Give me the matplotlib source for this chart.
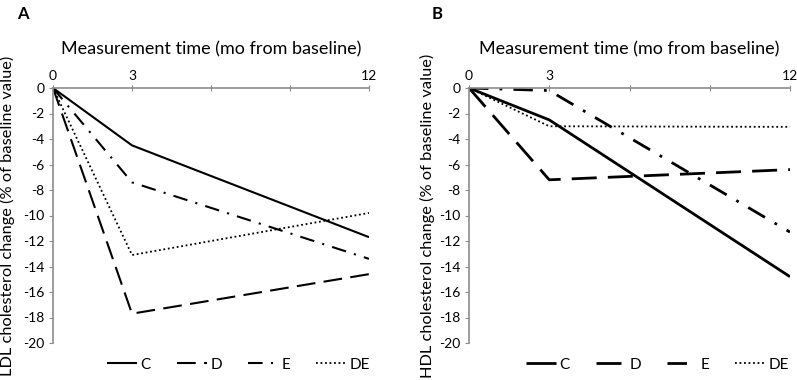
import matplotlib.pyplot as plt
import matplotlib.ticker as mticker

plt.rcParams['font.family'] = ['Lato', 'DejaVu Sans']
plt.rcParams['axes.unicode_minus'] = False

# Measurement times (months from baseline)
months = [0, 3, 12]
groups = ['C', 'D', 'E', 'DE']

# LDL cholesterol change (% of baseline value)
ldl_c = [0, -4.5, -11.7]
ldl_d = [0, -17.7, -14.6]
ldl_e = [0, -7.4, -13.4]
ldl_de = [0, -13.1, -9.8]

# HDL cholesterol change (% of baseline value)
hdl_c = [0, -2.5, -14.8]
hdl_d = [0, -7.2, -6.4]
hdl_e = [0, -0.2, -11.3]
hdl_de = [0, -3.0, -3.05]

styles = {
    'C': dict(linestyle='-'),
    'D': dict(linestyle=(0, (9, 4))),
    'E': dict(linestyle=(0, (7, 4, 1, 4))),
    'DE': dict(linestyle=(0, (1, 1.5))),
}


def draw_panel(ax, series, ylabel, letter, lw, label_x):
    for name, vals in zip(groups, series):
        w = lw if name != 'DE' else 1.3
        ax.plot(months, vals, color='black', linewidth=w, label=name,
                solid_capstyle='butt', dash_capstyle='butt', **styles[name])

    ax.set_xlim(0, 12)
    ax.set_ylim(-20, 0)
    ax.spines['right'].set_visible(False)
    ax.spines['bottom'].set_visible(False)
    for s in ('top', 'left'):
        ax.spines[s].set_color('#8c8c8c')
        ax.spines[s].set_linewidth(1.2)

    ax.xaxis.set_ticks_position('top')
    ax.xaxis.set_label_position('top')
    ax.set_xticks([0, 3, 6, 9, 12])
    ax.set_xticklabels(['0', '3', '', '', '12'])
    ax.tick_params(axis='x', direction='inout', length=5, color='#8c8c8c',
                   labelsize=10, pad=2)
    ax.set_yticks(range(-20, 1, 2))
    ax.yaxis.set_major_formatter(mticker.FormatStrFormatter('%d'))
    ax.tick_params(axis='y', direction='out', length=3, color='#8c8c8c',
                   labelsize=10, pad=3)
    ax.set_xlabel('Measurement time (mo from baseline)', fontsize=13, labelpad=11)
    ax.set_ylabel(ylabel, fontsize=11.8)
    ax.yaxis.set_label_coords(label_x, 0.50)

    ax.legend(loc='center', bbox_to_anchor=(0.587, -0.085), ncol=4,
              frameon=False, fontsize=11, handlelength=2.0,
              handletextpad=0.2, columnspacing=1.7)
    ax.text(-0.115, 1.29, letter, transform=ax.transAxes, fontsize=12,
            fontweight='bold', va='center')


fig = plt.figure(figsize=(7.97, 3.80), dpi=100)
ax1 = fig.add_axes([53 / 797, 1 - 343 / 380, (369 - 53) / 797, (343 - 88) / 380])
ax2 = fig.add_axes([469 / 797, 1 - 343 / 380, (790 - 469) / 797, (343 - 88) / 380])

draw_panel(ax1, [ldl_c, ldl_d, ldl_e, ldl_de],
           'LDL cholesterol change (% of baseline value)', 'A', 1.5, -0.12)
draw_panel(ax2, [hdl_c, hdl_d, hdl_e, hdl_de],
           'HDL cholesterol change (% of baseline value)', 'B', 2.0, -0.106)

fig.savefig('out.png', dpi=100)
